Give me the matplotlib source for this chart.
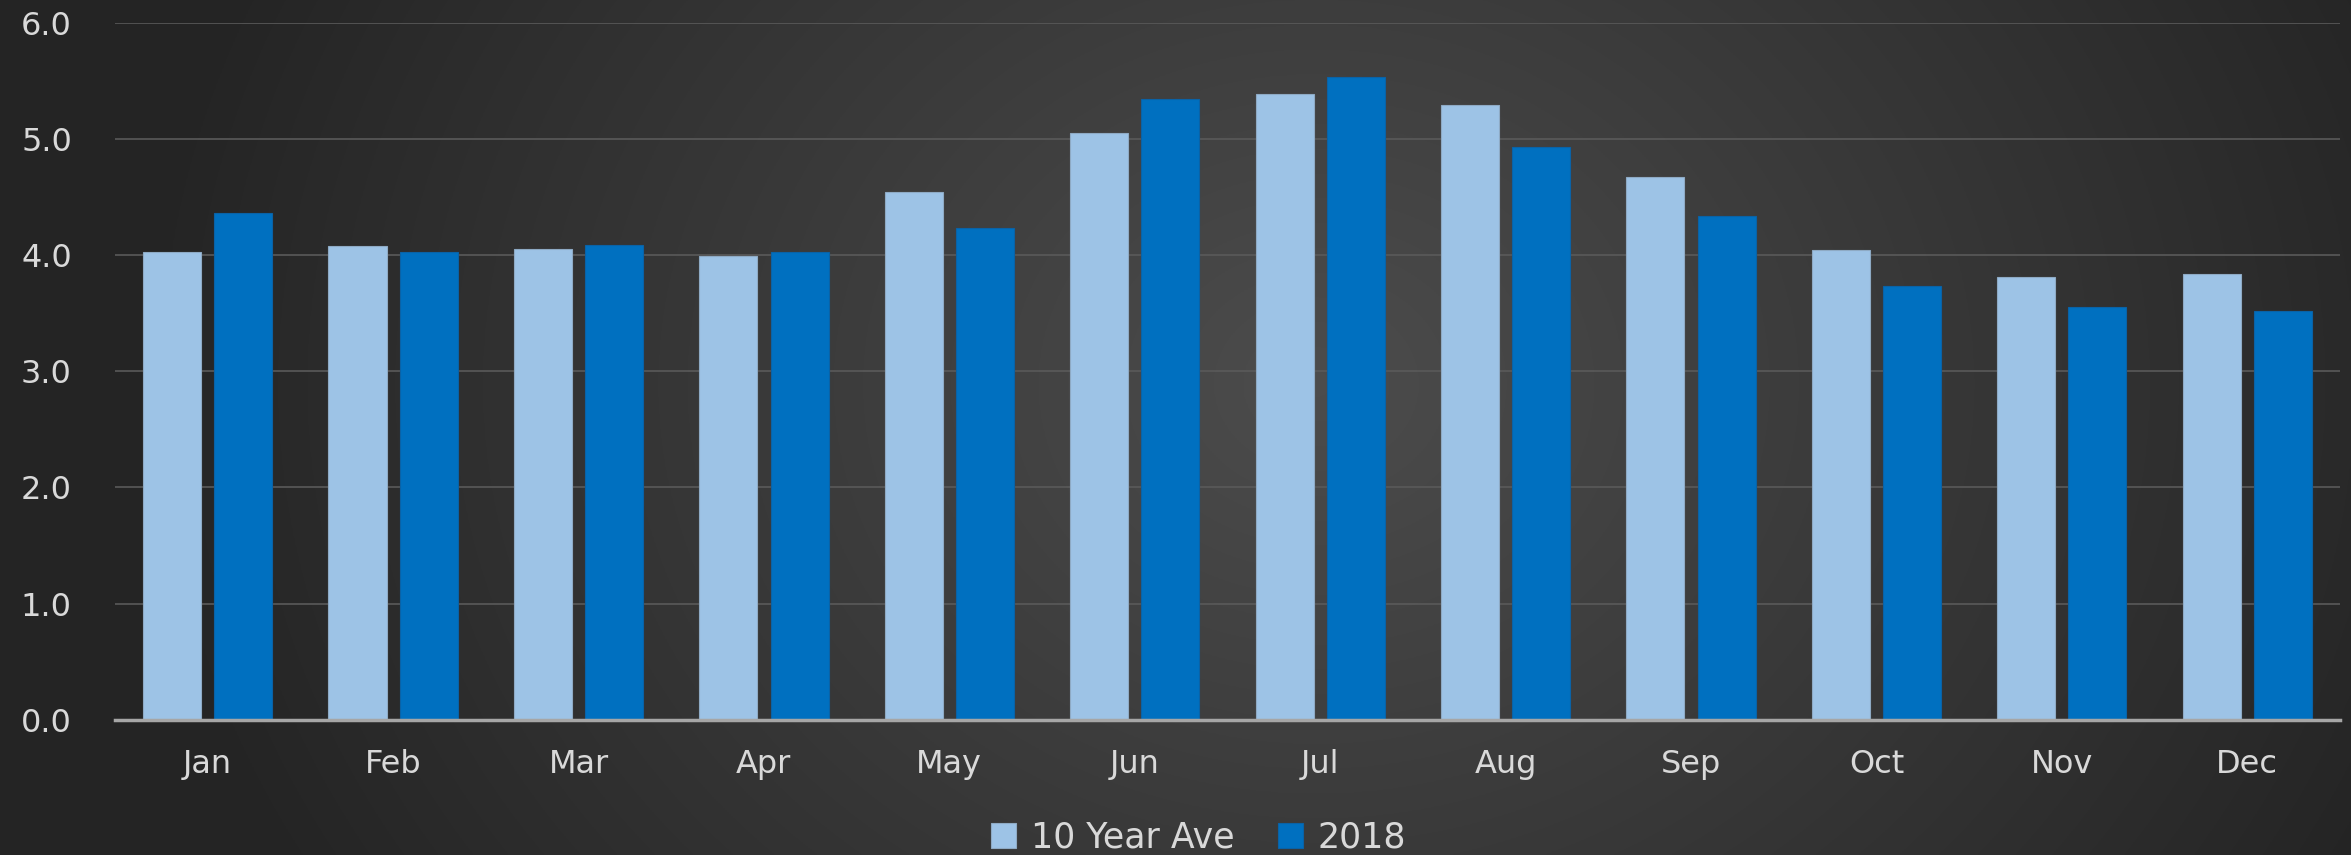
import numpy as np
import matplotlib
matplotlib.use("Agg")
import matplotlib.pyplot as plt

months = ['Jan', 'Feb', 'Mar', 'Apr', 'May', 'Jun', 'Jul', 'Aug', 'Sep', 'Oct', 'Nov', 'Dec']
ten_year_ave = [4.03, 4.08, 4.05, 3.99, 4.54, 5.05, 5.39, 5.29, 4.67, 4.04, 3.81, 3.84]
year_2018 = [4.36, 4.03, 4.09, 4.03, 4.23, 5.34, 5.53, 4.93, 4.34, 3.73, 3.55, 3.52]
y_ticks = [0.0, 1.0, 2.0, 3.0, 4.0, 5.0, 6.0]

plt.rcParams['font.family'] = ['DejaVu Sans']
txt = '#d9d9d9'

fig = plt.figure(figsize=(23.51, 8.55), dpi=100)

# radial gradient background (light in the middle, dark at the sides)
bg = fig.add_axes([0, 0, 1, 1], zorder=-10)
yy, xx = np.mgrid[0:1:400j, 0:1:1100j]
r = np.sqrt(((xx - 0.56) * 2.1) ** 2 + ((yy - 0.45) * 0.9) ** 2)
shade = np.clip(0.30 - 0.15 * r, 0.145, 0.30)
bg.imshow(np.dstack([shade] * 3), aspect='auto', extent=[0, 1, 0, 1], origin='upper')
bg.axis('off')

ax = fig.add_axes([0.0489, 0.158, 0.9464, 0.8155])
ax.patch.set_alpha(0)

x = np.arange(len(months))
w = 0.313
off = 0.192
ax.bar(x - off, ten_year_ave, w, color='#9dc3e6', edgecolor='#8eaac4', linewidth=0.8,
       label='10 Year Ave', zorder=3)
ax.bar(x + off, year_2018, w, color='#0070c0', edgecolor='#0a62a6', linewidth=0.8,
       label='2018', zorder=3)

ax.set_xlim(-0.5, len(months) - 0.5)
ax.set_ylim(0, 6)
ax.set_yticks(y_ticks)
ax.set_yticklabels([f'{v:.1f}' for v in y_ticks])
ax.set_xticks(x)
ax.set_xticklabels(months)
ax.tick_params(axis='both', length=0, colors=txt, labelsize=23)
ax.tick_params(axis='y', pad=31)
ax.tick_params(axis='x', pad=21)

ax.grid(axis='y', color='#5a5a5a', linewidth=1.2, zorder=0)
for s in ['top', 'right', 'left']:
    ax.spines[s].set_visible(False)
ax.spines['bottom'].set_color('#a6a6a6')
ax.spines['bottom'].set_linewidth(2.5)
ax.spines['bottom'].set_zorder(4)

leg = fig.legend(loc='center', bbox_to_anchor=(0.5097, 0.02), ncol=2, frameon=False,
                 fontsize=25, handlelength=0.72, handleheight=0.72, handletextpad=0.42,
                 columnspacing=1.25, borderpad=0)
for t in leg.get_texts():
    t.set_color(txt)

fig.savefig('out.png', dpi=100)
